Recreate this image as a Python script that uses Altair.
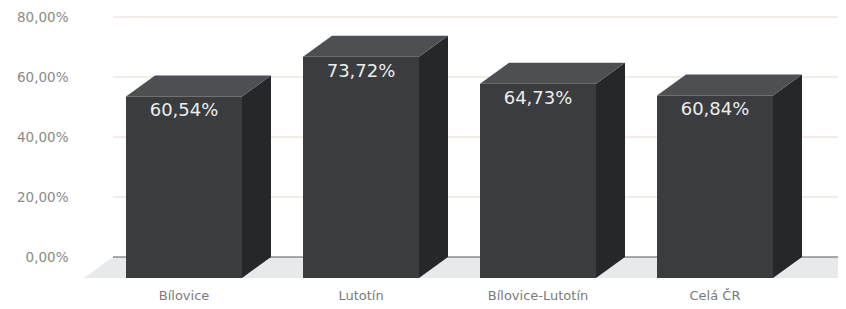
import altair as alt
import pandas as pd

categories = ["Bílovice", "Lutotín", "Bílovice-Lutotín", "Celá ČR"]
values = [60.54, 73.72, 64.73, 60.84]
y_ticks = [0, 20, 40, 60, 80]

# layout constants (x in plot pixels, y in % units)
STEP = 177
FRONT0 = 42
BAR_W = 116
DEPTH_X = 29
DEPTH_Y = 7
PLOT_W = 754
PLOT_H = 273
Y_MIN, Y_MAX = -8, 83

front_rows, top_rows, side_rows = [], [], []
for i, (c, v) in enumerate(zip(categories, values)):
    fl = FRONT0 + i * STEP
    fr = fl + BAR_W
    front_rows.append(dict(cat=c, value=v, x=fl, x2=fr, y=-DEPTH_Y, y2=v - DEPTH_Y, xc=fl + BAR_W / 2, ymin=Y_MIN))
    top_rows += [dict(cat=c, y=v - DEPTH_Y, x=fl, x2=fr), dict(cat=c, y=v, x=fl + DEPTH_X, x2=fr + DEPTH_X)]
    side_rows += [dict(cat=c, x=fr, y=-DEPTH_Y, y2=v - DEPTH_Y), dict(cat=c, x=fr + DEPTH_X, y=0, y2=v)]

front = pd.DataFrame(front_rows)
top = pd.DataFrame(top_rows)
side = pd.DataFrame(side_rows)
floor = pd.DataFrame([dict(y=-DEPTH_Y, x=0, x2=PLOT_W), dict(y=0, x=DEPTH_X, x2=PLOT_W)])
grid = pd.DataFrame([dict(y=t, x=DEPTH_X, x2=PLOT_W) for t in y_ticks if t > 0])
base = pd.DataFrame([dict(y=0, x=DEPTH_X, x2=PLOT_W)])

xs = alt.Scale(domain=[0, PLOT_W], nice=False, zero=False)
ys = alt.Scale(domain=[Y_MIN, Y_MAX], nice=False, zero=False)
yaxis = alt.Axis(values=y_ticks, labelExpr="replace(format(datum.value, '.2f'), '.', ',') + '%'",
                 grid=False, domain=False, ticks=False, labelPadding=16, labelFontSize=13.5,
                 labelColor="#8a8a8a", labelFont="DejaVu Sans", title=None)

def X(f="x"):
    return alt.X(f"{f}:Q", scale=xs, axis=None)

def Y(f="y"):
    return alt.Y(f"{f}:Q", scale=ys, axis=yaxis)

floor_l = alt.Chart(floor).mark_area(orient="horizontal", color="#e8e9eb").encode(
    y=Y(), x=X(), x2="x2:Q")
grid_l = alt.Chart(grid).mark_rule(color="#e6d8d2", strokeWidth=1).encode(y=Y(), x=X(), x2="x2:Q")
base_l = alt.Chart(base).mark_rule(color="#5c5c5c", strokeWidth=1.2).encode(y=Y(), x=X(), x2="x2:Q")
side_l = alt.Chart(side).mark_area(orient="vertical", color="#25282a").encode(
    x=X(), y=Y(), y2="y2:Q", detail="cat:N")
top_l = alt.Chart(top).mark_area(orient="horizontal", color="#4d4f52").encode(
    y=Y(), x=X(), x2="x2:Q", detail="cat:N")
front_l = alt.Chart(front).mark_rect(color="#3a3c3f").encode(
    x=X(), x2="x2:Q", y=Y(), y2="y2:Q")
val_l = alt.Chart(front).transform_calculate(
    lab="replace(format(datum.value, '.2f'), '.', ',') + '%'"
).mark_text(color="#ececec", fontSize=18, font="DejaVu Sans", baseline="alphabetic", dy=20).encode(
    x=X("xc"), y=Y("y2"), text="lab:N")
cat_l = alt.Chart(front).mark_text(color="#7a7a7a", fontSize=13, font="DejaVu Sans", baseline="middle", dy=15).encode(
    x=X("xc"), y=Y("ymin"), text="cat:N")

chart = alt.layer(floor_l, grid_l, base_l, side_l, top_l, front_l, val_l, cat_l).properties(
    width=PLOT_W, height=PLOT_H,
    padding={"left": 76, "top": 0, "right": 0, "bottom": 25},
    autosize=alt.AutoSizeParams(type="none"),
    background="white",
).configure_view(stroke=None)

chart.save("out.html", embed_options={"renderer": "svg", "actions": False})
